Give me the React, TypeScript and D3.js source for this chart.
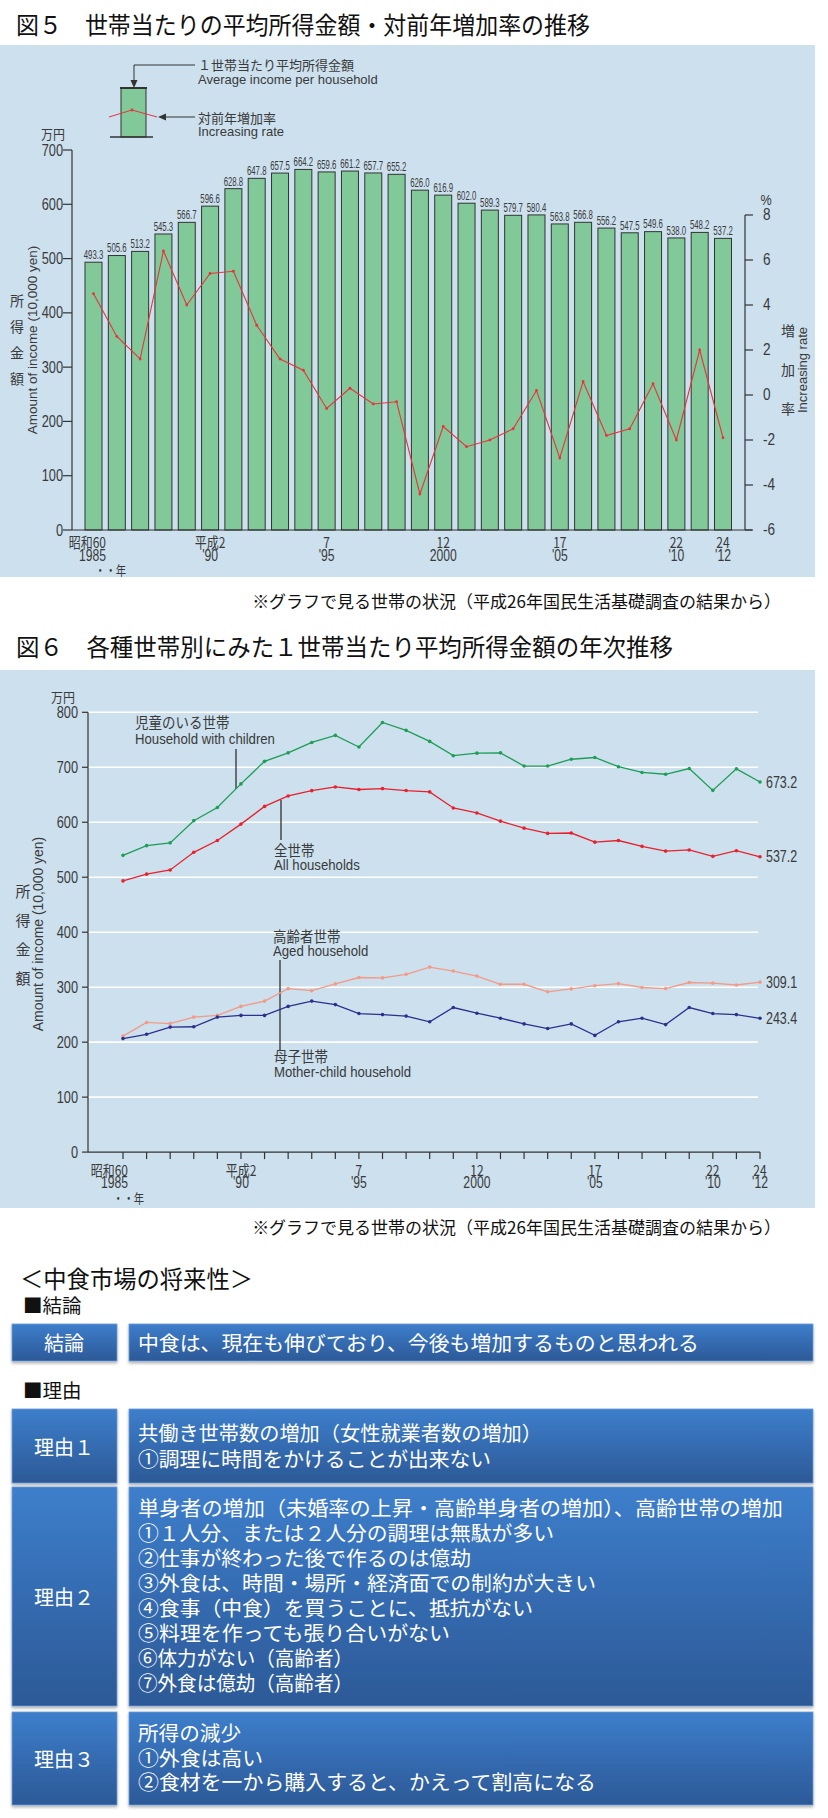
import React from 'react';
import * as d3 from 'd3';

// ---------- data ----------
const years = [1985, 1986, 1987, 1988, 1989, 1990, 1991, 1992, 1993, 1994, 1995, 1996, 1997, 1998,
  1999, 2000, 2001, 2002, 2003, 2004, 2005, 2006, 2007, 2008, 2009, 2010, 2011, 2012];

const incomeAll = [493.3, 505.6, 513.2, 545.3, 566.7, 596.6, 628.8, 647.8, 657.5, 664.2, 659.6, 661.2,
  657.7, 655.2, 626.0, 616.9, 602.0, 589.3, 579.7, 580.4, 563.8, 566.8, 556.2, 547.5, 549.6, 538.0, 548.2, 537.2];

const growthRate = [4.5, 2.6, 1.6, 6.4, 4.0, 5.4, 5.5, 3.1, 1.6, 1.1, -0.6, 0.3, -0.4, -0.3, -4.4, -1.4,
  -2.3, -2.0, -1.5, 0.2, -2.8, 0.6, -1.8, -1.5, 0.5, -2.0, 2.0, -1.9];

const incomeChildren = [539.8, 557.4, 562.5, 602.9, 626.9, 669.8, 710.8, 726.2, 745.1, 758.1, 736.8, 781.5,
  767.2, 747.1, 721.1, 725.7, 726.2, 702.2, 702.2, 714.6, 717.8, 701.0, 690.6, 687.3, 697.7, 658.0, 697.1, 673.2];

const incomeAged = [211.0, 235.8, 233.8, 245.6, 248.7, 265.0, 274.7, 297.4, 293.6, 306.0, 317.6, 316.9,
  323.4, 336.5, 329.3, 320.2, 305.3, 305.3, 291.6, 296.9, 302.7, 306.5, 299.4, 297.4, 308.5, 307.3, 304.0, 309.1];

const incomeMotherChild = [206.5, 214.3, 227.4, 228.0, 245.6, 248.7, 248.7, 265.0, 274.7, 268.3, 252.0, 250.1,
  247.4, 237.0, 263.0, 252.7, 243.6, 233.2, 224.7, 233.2, 212.3, 237.0, 243.6, 231.9, 263.0, 252.0, 250.1, 243.4];

const xTickLabels = [
  { year: 1985, l1: '昭和60', l2: '1985' },
  { year: 1990, l1: '平成2', l2: "'90" },
  { year: 1995, l1: '7', l2: "'95" },
  { year: 2000, l1: '12', l2: '2000' },
  { year: 2005, l1: '17', l2: "'05" },
  { year: 2010, l1: '22', l2: "'10" },
  { year: 2012, l1: '24', l2: "'12" },
];

const leftTicks1 = [0, 100, 200, 300, 400, 500, 600, 700];
const rightTicks1 = [-6, -4, -2, 0, 2, 4, 6, 8];
const leftTicks2 = [0, 100, 200, 300, 400, 500, 600, 700, 800];

const conclusion = '中食は、現在も伸びており、今後も増加するものと思われる';
const reason1 = ['共働き世帯数の増加（女性就業者数の増加）', '①調理に時間をかけることが出来ない'];
const reason2 = [
  '単身者の増加（未婚率の上昇・高齢単身者の増加）、高齢世帯の増加',
  '①１人分、または２人分の調理は無駄が多い',
  '②仕事が終わった後で作るのは億劫',
  '③外食は、時間・場所・経済面での制約が大きい',
  '④食事（中食）を買うことに、抵抗がない',
  '⑤料理を作っても張り合いがない',
  '⑥体力がない（高齢者）',
  '⑦外食は億劫（高齢者）',
];
const reason3 = ['所得の減少', '①外食は高い', '②食材を一から購入すると、かえって割高になる'];

// rendered line widths (layout)
const reason1W = [404, 353];
const reason2W = [645, 416, 333, 458, 395, 312, 215, 215];
const reason3W = [103, 125, 458];

// ---------- styles ----------
const JP = "'Noto Sans CJK JP', 'Noto Sans', sans-serif";
const LAT = "'Liberation Sans', Arial, sans-serif";
const PANEL = '#cce0ee';
const TXT = '#3a3a3a';

function NText(props: any) {
  const { x, y, sx = 1, anchor = 'middle', size = 14, fill = TXT, family = LAT, children, rotate = 0 } = props;
  return (
    <text
      transform={`translate(${x},${y}) rotate(${rotate}) scale(${sx},1)`}
      textAnchor={anchor}
      dominantBaseline="central"
      fontSize={size}
      fill={fill}
      fontFamily={family}
    >
      {children}
    </text>
  );
}

function Chart1() {
  const x = d3.scalePoint<number>().domain(years).range([93.5, 723]);
  const y = d3.scaleLinear().domain([0, 700]).range([530, 150]);
  const yr = d3.scaleLinear().domain([-6, 8]).range([530, 215]);
  const barW = 17;
  const line = d3.line<number>().x((_, i) => x(years[i]) as number).y((d) => yr(d));
  return (
    <g>
      <rect x={0} y={45} width={815} height={532} fill={PANEL} />
      {/* legend */}
      <rect x={121} y={88} width={25} height={49} fill="#82c99a" stroke="#333" strokeWidth={1} />
      <line x1={120} x2={147} y1={88} y2={88} stroke="#333" strokeWidth={2} />
      <line x1={110} x2={153} y1={137} y2={137} stroke="#333" strokeWidth={1.5} />
      <polyline points="109,117 132,110 157,117" fill="none" stroke="#e8333b" strokeWidth={1} />
      <circle cx={132} cy={110} r={1.4} fill="#e8333b" />
      <path d="M195,65 H134 V83" fill="none" stroke="#333" strokeWidth={1} />
      <path d="M130.5,80 L134,88 L137.5,80 Z" fill="#333" />
      <line x1={195} x2={163} y1={117} y2={117} stroke="#333" strokeWidth={1} />
      <path d="M166,113.5 L158,117 L166,120.5 Z" fill="#333" />
      <NText x={198} y={64} anchor="start" size={13} family={JP}>１世帯当たり平均所得金額</NText>
      <NText x={198} y={79} anchor="start" size={13}>Average income per household</NText>
      <NText x={198} y={117} anchor="start" size={13} family={JP}>対前年増加率</NText>
      <NText x={198} y={131} anchor="start" size={13}>Increasing rate</NText>

      {/* bars */}
      {incomeAll.map((v, i) => (
        <g key={i}>
          <rect x={(x(years[i]) as number) - barW / 2} y={y(v)} width={barW} height={y(0) - y(v)}
            fill="#82c99a" stroke="#333" strokeWidth={1} />
          <NText x={x(years[i])} y={y(v) - 8} size={13} sx={0.6}>{v.toFixed(1)}</NText>
        </g>
      ))}
      {/* rate line */}
      <path d={line(growthRate) as string} fill="none" stroke="#e8333b" strokeWidth={1.1} />
      {growthRate.map((v, i) => (
        <circle key={i} cx={x(years[i])} cy={yr(v)} r={1.4} fill="#e8333b" />
      ))}

      {/* axes */}
      <line x1={72} x2={72} y1={y(700)} y2={y(0)} stroke="#333" strokeWidth={1.2} />
      <line x1={72} x2={752} y1={y(0)} y2={y(0)} stroke="#333" strokeWidth={1.2} />
      {leftTicks1.map((t) => (
        <g key={t}>
          <line x1={63} x2={72} y1={y(t)} y2={y(t)} stroke="#333" strokeWidth={1.2} />
          <NText x={63} y={y(t)} anchor="end" size={16} sx={0.8}>{t}</NText>
        </g>
      ))}
      <NText x={53} y={134} size={13} family={JP} sx={0.92}>万円</NText>
      <line x1={745} x2={745} y1={yr(8)} y2={yr(-6)} stroke="#333" strokeWidth={1.2} />
      {rightTicks1.map((t) => (
        <g key={t}>
          <line x1={745} x2={753} y1={yr(t)} y2={yr(t)} stroke="#333" strokeWidth={1.2} />
          <NText x={763} y={yr(t)} anchor="start" size={16} sx={0.85}>{t}</NText>
        </g>
      ))}
      <NText x={766} y={200} size={14} sx={0.9}>%</NText>

      {/* x labels */}
      {xTickLabels.map((d, i) => (
        <g key={d.year}>
          <NText x={i === 0 ? 106 : x(d.year)} y={541} anchor={i === 0 ? 'end' : 'middle'} size={15} sx={0.8}
            family={JP}>{d.l1}</NText>
          <NText x={i === 0 ? 106 : x(d.year)} y={555} anchor={i === 0 ? 'end' : 'middle'} size={16} sx={0.76}>{d.l2}</NText>
        </g>
      ))}
      <NText x={95} y={569} anchor="start" size={13} sx={0.8} family={JP}>・・年</NText>

      {/* axis titles */}
      {['所', '得', '金', '額'].map((c, i) => (
        <NText key={c} x={17} y={300 + i * 26} size={14} family={JP}>{c}</NText>
      ))}
      <NText x={32} y={340} size={13.5} rotate={-90}>Amount of income (10,000 yen)</NText>
      {['増', '加', '率'].map((c, i) => (
        <NText key={c} x={788} y={330 + i * 39} size={14} family={JP}>{c}</NText>
      ))}
      <NText x={802} y={370} size={13} rotate={-90}>Increasing rate</NText>
    </g>
  );
}

function Chart2() {
  const x = d3.scalePoint<number>().domain(years).range([123, 760]);
  const y = d3.scaleLinear().domain([0, 800]).range([1152.1, 712.3]);
  const line = d3.line<number>().x((_, i) => x(years[i]) as number).y((d) => y(d));
  const series = [
    { values: incomeChildren, color: '#1f9d55' },
    { values: incomeAll, color: '#e8212c' },
    { values: incomeAged, color: '#f49a86' },
    { values: incomeMotherChild, color: '#2c2f8e' },
  ];
  return (
    <g>
      <rect x={0} y={670} width={815} height={538} fill={PANEL} />
      {leftTicks2.filter((t) => t > 0).map((t) => (
        <line key={t} x1={88} x2={758} y1={y(t)} y2={y(t)} stroke="#fff" strokeWidth={1.6} />
      ))}
      {/* axes */}
      <line x1={88} x2={88} y1={y(800)} y2={y(0)} stroke="#333" strokeWidth={1.2} />
      <line x1={88} x2={760} y1={y(0)} y2={y(0)} stroke="#333" strokeWidth={1.2} />
      {leftTicks2.map((t) => (
        <g key={t}>
          <line x1={82} x2={88} y1={y(t)} y2={y(t)} stroke="#333" strokeWidth={1.2} />
          <NText x={78} y={y(t)} anchor="end" size={16} sx={0.8}>{t}</NText>
        </g>
      ))}
      {years.map((yr) => (
        <line key={yr} x1={x(yr)} x2={x(yr)} y1={y(0)} y2={y(0) + 7} stroke="#333" strokeWidth={1.2} />
      ))}
      <NText x={63} y={697} size={13} family={JP} sx={0.92}>万円</NText>
      {xTickLabels.map((d, i) => (
        <g key={d.year}>
          <NText x={i === 0 ? 128 : x(d.year)} y={1169} anchor={i === 0 ? 'end' : 'middle'} size={15} sx={0.8}
            family={JP}>{d.l1}</NText>
          <NText x={i === 0 ? 128 : x(d.year)} y={1182} anchor={i === 0 ? 'end' : 'middle'} size={16} sx={0.76}>{d.l2}</NText>
        </g>
      ))}
      <NText x={113} y={1197} anchor="start" size={13} sx={0.8} family={JP}>・・年</NText>
      {['所', '得', '金', '額'].map((c, i) => (
        <NText key={c} x={23} y={890 + i * 29} size={15} family={JP}>{c}</NText>
      ))}
      <NText x={38} y={934} size={15} sx={0.93} rotate={-90}>Amount of income (10,000 yen)</NText>

      {/* annotation leaders */}
      <line x1={236} x2={236} y1={749} y2={789} stroke="#222" strokeWidth={1.2} />
      <line x1={281} x2={281} y1={800} y2={840} stroke="#222" strokeWidth={1.2} />
      <line x1={280} x2={280} y1={960} y2={1051} stroke="#222" strokeWidth={1.2} />

      {series.map((s, k) => (
        <g key={k}>
          <path d={line(s.values) as string} fill="none" stroke={s.color} strokeWidth={1.3} />
          {s.values.map((v, i) => (
            <circle key={i} cx={x(years[i])} cy={y(v)} r={1.8} fill={s.color} />
          ))}
          <NText x={766} y={y(s.values[s.values.length - 1])} anchor="start" size={16} sx={0.78}>
            {s.values[s.values.length - 1].toFixed(1)}
          </NText>
        </g>
      ))}

      <NText x={135} y={722} anchor="start" size={14.5} family={JP} sx={0.93}>児童のいる世帯</NText>
      <NText x={135} y={739} anchor="start" size={15} sx={0.88}>Household with children</NText>
      <NText x={274} y={850} anchor="start" size={14.5} family={JP} sx={0.93}>全世帯</NText>
      <NText x={274} y={865} anchor="start" size={15} sx={0.88}>All households</NText>
      <NText x={273} y={936} anchor="start" size={14.5} family={JP} sx={0.93}>高齢者世帯</NText>
      <NText x={273} y={951} anchor="start" size={15} sx={0.88}>Aged household</NText>
      <NText x={274} y={1056} anchor="start" size={14.5} family={JP} sx={0.93}>母子世帯</NText>
      <NText x={274} y={1072} anchor="start" size={15} sx={0.88}>Mother-child household</NText>
    </g>
  );
}

function Box(props: any) {
  const { x, y, w, h } = props;
  return (
    <rect x={x} y={y} width={w} height={h} fill="url(#boxGrad)" stroke="#6c9bd6" strokeWidth={0.8}
      filter="url(#shadow)" />
  );
}

function Lines(props: any) {
  const { lines, widths, x, y0, dy, size } = props;
  return (
    <text fontSize={size} fill="#fff" dominantBaseline="central">
      {lines.map((t: string, i: number) => (
        <tspan key={i} x={x} y={y0 + i * dy} textLength={widths[i]} lengthAdjust="spacingAndGlyphs">{t}</tspan>
      ))}
    </text>
  );
}

function Summary() {
  const cx = 64;
  const tx = 138;
  const fs = 20.3;
  return (
    <g fontFamily={JP}>
      <text x={20} y={1278} fontSize={23.3} dominantBaseline="central" fill="#111"
        textLength={233} lengthAdjust="spacingAndGlyphs">＜中食市場の将来性＞</text>
      <text x={23} y={1304} fontSize={19.5} dominantBaseline="central" fill="#111">■結論</text>
      <Box x={12} y={1324} w={105} h={37} />
      <Box x={129} y={1324} w={684} h={37} />
      <text x={cx} y={1342} fontSize={20} textAnchor="middle" dominantBaseline="central" fill="#fff">結論</text>
      <text x={tx} y={1342} fontSize={20.8} dominantBaseline="central" fill="#fff"
        textLength={561} lengthAdjust="spacingAndGlyphs">{conclusion}</text>

      <text x={23} y={1389} fontSize={19.5} dominantBaseline="central" fill="#111">■理由</text>
      <Box x={12} y={1409} w={105} h={74} />
      <Box x={129} y={1409} w={684} h={74} />
      <text x={cx} y={1446} fontSize={20} textAnchor="middle" dominantBaseline="central" fill="#fff">理由１</text>
      <Lines lines={reason1} widths={reason1W} x={tx} y0={1432} dy={26} size={fs} />

      <Box x={12} y={1487} w={105} h={219} />
      <Box x={129} y={1487} w={684} h={219} />
      <text x={cx} y={1596} fontSize={20} textAnchor="middle" dominantBaseline="central" fill="#fff">理由２</text>
      <Lines lines={reason2} widths={reason2W} x={tx} y0={1507} dy={25} size={fs} />

      <Box x={12} y={1712} w={105} h={93} />
      <Box x={129} y={1712} w={684} h={93} />
      <text x={cx} y={1758} fontSize={20} textAnchor="middle" dominantBaseline="central" fill="#fff">理由３</text>
      <Lines lines={reason3} widths={reason3W} x={tx} y0={1732} dy={24.5} size={fs} />
    </g>
  );
}

export default function App() {
  return (
    <svg width={828} height={1818} viewBox="0 0 828 1818"
      style={{ position: 'absolute', left: 0, top: 0, background: '#fff' }}>
      <defs>
        <linearGradient id="boxGrad" x1="0" y1="0" x2="0" y2="1">
          <stop offset="0" stopColor="#3d7ecb" />
          <stop offset="1" stopColor="#2c5997" />
        </linearGradient>
        <filter id="shadow" x="-5%" y="-10%" width="110%" height="130%">
          <feDropShadow dx="0" dy="2" stdDeviation="1.5" floodColor="#000" floodOpacity="0.3" />
        </filter>
      </defs>
      <rect x={0} y={0} width={828} height={1818} fill="#fff" />
      <text x={16} y={23} fontSize={24} fontFamily={JP} dominantBaseline="central" fill="#111"
        textLength={574} lengthAdjust="spacingAndGlyphs">図５　世帯当たりの平均所得金額・対前年増加率の推移</text>
      <Chart1 />
      <text x={781} y={600} fontSize={17} fontFamily={JP} textAnchor="end" dominantBaseline="central" fill="#111">
        ※グラフで見る世帯の状況（平成26年国民生活基礎調査の結果から）</text>
      <text x={16} y={645} fontSize={24} fontFamily={JP} dominantBaseline="central" fill="#111"
        textLength={657} lengthAdjust="spacingAndGlyphs">図６　各種世帯別にみた１世帯当たり平均所得金額の年次推移</text>
      <Chart2 />
      <text x={781} y={1226} fontSize={17} fontFamily={JP} textAnchor="end" dominantBaseline="central" fill="#111">
        ※グラフで見る世帯の状況（平成26年国民生活基礎調査の結果から）</text>
      <Summary />
    </svg>
  );
}
